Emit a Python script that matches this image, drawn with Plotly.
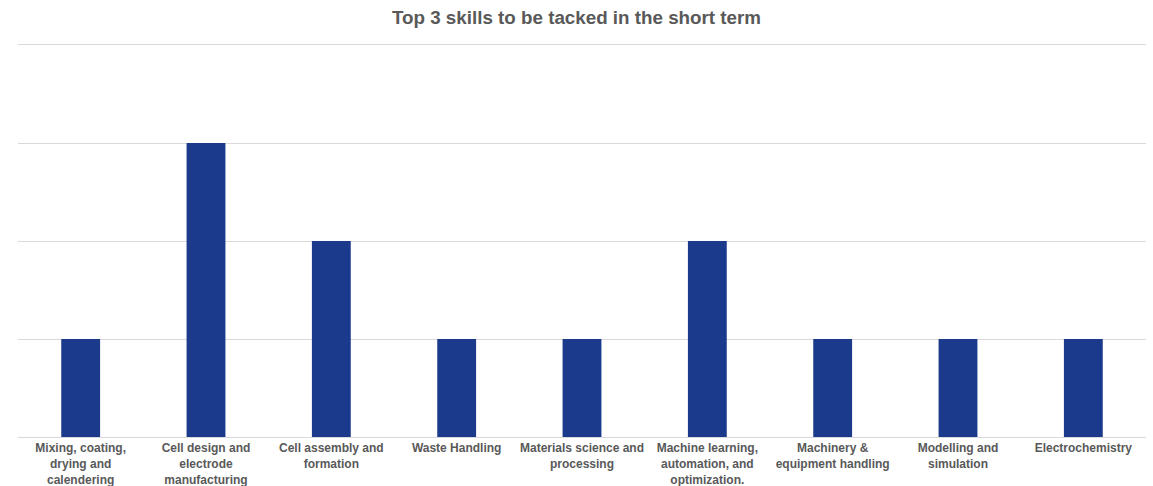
import plotly.graph_objects as go

categories = [
    "Mixing, coating,<br>drying and<br>calendering",
    "Cell design and<br>electrode<br>manufacturing",
    "Cell assembly and<br>formation",
    "Waste Handling",
    "Materials science and<br>processing",
    "Machine learning,<br>automation, and<br>optimization.",
    "Machinery &<br>equipment handling",
    "Modelling and<br>simulation",
    "Electrochemistry",
]
values = [1, 3, 2, 1, 1, 2, 1, 1, 1]

fig = go.Figure(go.Bar(
    x=categories, y=values,
    marker=dict(color="#1B3A8C", line=dict(width=0)),
    width=0.31,
))

fig.update_layout(
    width=1153, height=486,
    paper_bgcolor="white", plot_bgcolor="white",
    margin=dict(l=18, r=7, t=45, b=49),
    title=dict(text="<b>Top 3 skills to be tacked in the short term</b>",
               x=0.5, xanchor="center", yref="container", y=0.965, yanchor="middle",
               font=dict(family="Liberation Sans, Arial", size=18.8, color="#595959")),
    font=dict(family="Liberation Sans, Arial", color="#595959"),
    showlegend=False,
)
fig.update_xaxes(
    showline=True, mirror=True, linecolor="#d9d9d9", linewidth=1,
    tickfont=dict(size=12, color="#595959", family="Liberation Sans, Arial"),
    ticks="", tickangle=0, automargin=False, ticklabelstandoff=0,
    tickprefix="<b>", ticksuffix="</b>",
)
fig.update_yaxes(
    range=[0, 4], dtick=1, showticklabels=False, automargin=False,
    gridcolor="#d9d9d9", gridwidth=1, zeroline=False,
)

fig.write_html("out.html", config={"displayModeBar": False},
               post_script="document.body.style.margin='0';document.body.style.overflow='hidden';")
